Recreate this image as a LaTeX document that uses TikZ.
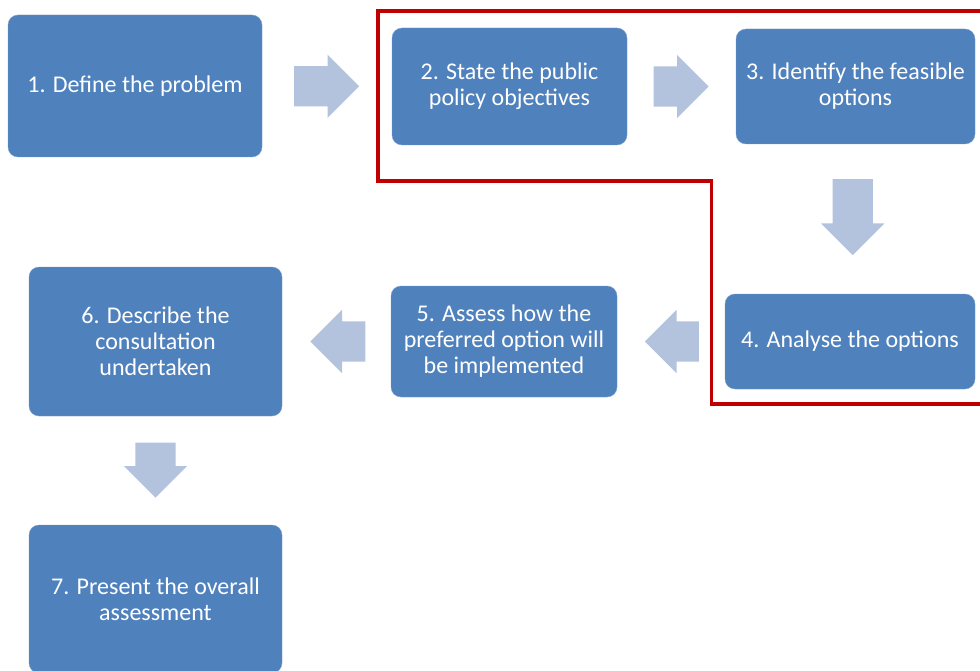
\documentclass[tikz,border=0pt]{standalone}
\usepackage{fontspec}
\setmainfont{Carlito}
\usepackage{tikz}
\usetikzlibrary{calc,positioning,shapes.arrows}
\definecolor{stageblue}{RGB}{79,129,189}
\definecolor{flowblue}{RGB}{179,194,221}
\definecolor{framered}{RGB}{192,0,0}
\tikzset{
  stage/.style={rectangle,rounded corners=10pt,fill=stageblue,
    draw=stageblue!75!white,thin,text=white,align=center,inner sep=0pt,
    font=\fontsize{24}{26}\selectfont},
  flow/.style={single arrow,fill=flowblue,draw=none,inner xsep=0pt,
    inner ysep=20pt,single arrow head extend=11.5pt,anchor=tail},
  frame/.style={draw=framered,line width=3.2pt}
}

\begin{document}
\begin{tikzpicture}[x=1pt,y=-1pt]
  \clip (0,0) rectangle (980,671);
  \fill[white] (0,0) rectangle (980,671);
  % stages
  \node[stage,minimum width=254pt,minimum height=142pt] (def) at (135,86)
    {1. Define the problem};
  \node[stage,minimum width=235pt,minimum height=117pt] (obj) at (509.5,86.5)
    {2. State the public\\policy objectives};
  \node[stage,minimum width=239pt,minimum height=115pt] (opt) at (855.5,86.5)
    {3. Identify the feasible\\options};
  \node[stage,minimum width=250pt,minimum height=95pt] (ana) at (850,341.5)
    {4. Analyse the options};
  \node[stage,minimum width=226pt,minimum height=111pt] (imp) at (504,341.5)
    {5. Assess how the\\preferred option will\\be implemented};
  \node[stage,minimum width=253pt,minimum height=149pt] (con) at (155.5,341.5)
    {6. Describe the\\consultation\\undertaken};
  \node[stage,minimum width=253pt,minimum height=148pt] (ass) at (155.5,599)
    {7. Present the overall\\assessment};
  % block arrows between stages (placed by their tails)
  \node[flow,minimum height=65pt] (f12)
    at ($(def.east)!0.5!(obj.west)+(-33,0)$) {};
  \node[flow,minimum height=55pt] (f23)
    at ($(obj.east)!0.5!(opt.west)+(-28,0)$) {};
  \node[flow,minimum height=76pt,rotate=-90] (f34)
    at ($(opt.south)!0.5!(ana.north)+(0,-40)$) {};
  \node[flow,minimum height=54pt,rotate=180] (f45)
    at ($(ana.west)!0.5!(imp.east)+(28,0)$) {};
  \node[flow,minimum height=55pt,rotate=180] (f56)
    at ($(imp.west)!0.5!(con.east)+(29,0)$) {};
  \node[flow,minimum height=55pt,rotate=-90] (f67)
    at ($(con.south)!0.5!(ass.north)+(0,-28)$) {};
  % red outline round steps 2-4
  \draw[frame] (980,11) -- (378,11) -- (378,181) -- (711.5,181)
    -- (711.5,404) -- (980,404);
\end{tikzpicture}
\end{document}
